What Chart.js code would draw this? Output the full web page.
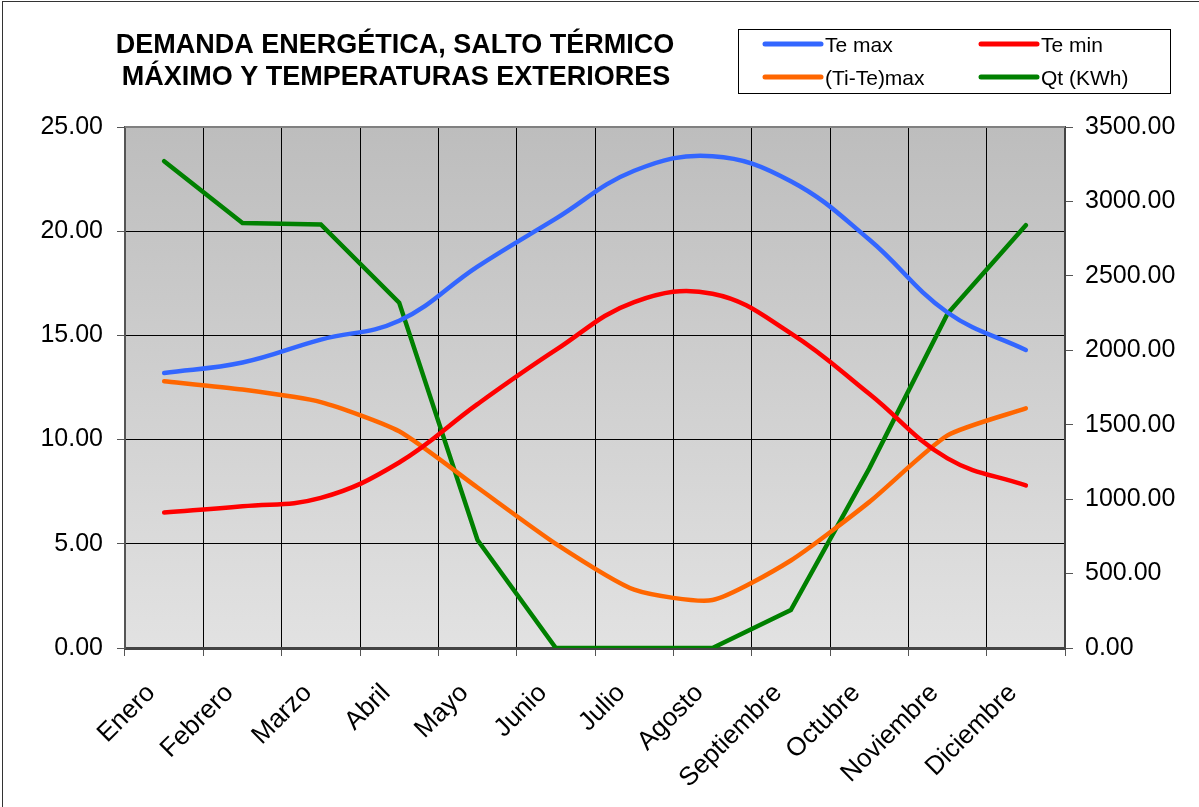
<!DOCTYPE html>
<html>
<head>
<meta charset="utf-8">
<script src="https://cdn.jsdelivr.net/npm/chart.js@4.4.1/dist/chart.umd.min.js"></script>
<style>
  html, body { margin: 0; padding: 0; background: #fff; overflow: hidden; }
  #wrap { position: relative; width: 1199px; height: 807px; }
  #frame { position: absolute; left: 2px; top: 1px; width: 1300px; height: 900px;
           border-left: 1.5px solid #333; border-top: 1.5px solid #333; pointer-events: none; }
  canvas { position: absolute; left: 0; top: 0; }
</style>
</head>
<body>
<div id="wrap">
  <canvas id="chart" width="1199" height="807"></canvas>
  <div id="frame"></div>
</div>
<script>
// data
const months = ['Enero', 'Febrero', 'Marzo', 'Abril', 'Mayo', 'Junio', 'Julio',
                'Agosto', 'Septiembre', 'Octubre', 'Noviembre', 'Diciembre'];
const teMax   = [13.2, 13.7, 14.8, 15.7, 18.3, 20.6, 22.9, 23.6, 22.4, 19.6, 16.1, 14.3];
const teMin   = [6.5, 6.8, 7.2, 8.9, 11.7, 14.3, 16.6, 17.0, 15.1, 12.2, 9.1, 7.8];
const tiTeMax = [12.8, 12.4, 11.8, 10.4, 7.7, 5.0, 2.8, 2.3, 4.2, 7.0, 10.2, 11.5];
const qt      = [3270, 2855, 2845, 2320, 725, 0, 0, 0, 255, 1205, 2245, 2840];

const titleLines = ['DEMANDA ENERGÉTICA, SALTO TÉRMICO', 'MÁXIMO Y TEMPERATURAS EXTERIORES'];
const leftAxis  = { min: 0, max: 25, step: 5 };
const rightAxis = { min: 0, max: 3500, step: 500 };

const FONT = '"Liberation Sans", Arial, sans-serif';

// gradient behind the plot area
const plotBackground = {
    id: 'plotBackground',
    beforeDraw(chart) {
        const { ctx, chartArea: a } = chart;
        const g = ctx.createLinearGradient(0, a.top, 0, a.bottom);
        g.addColorStop(0, '#bdbdbd');
        g.addColorStop(1, '#e2e2e2');
        ctx.save();
        ctx.fillStyle = g;
        ctx.fillRect(a.left, a.top, a.right - a.left, a.bottom - a.top);
        ctx.restore();
    },
    beforeDatasetsDraw(chart) {
        const { ctx, chartArea: a } = chart;
        ctx.save();
        ctx.strokeStyle = '#808080';
        ctx.lineWidth = 2;
        ctx.beginPath();
        ctx.moveTo(a.left, a.top);
        ctx.lineTo(a.right, a.top);
        ctx.stroke();
        ctx.restore();
    }
};

// title and boxed two-column legend
const header = {
    id: 'header',
    afterDraw(chart) {
        const ctx = chart.ctx;
        ctx.save();
        ctx.fillStyle = '#000';
        ctx.textAlign = 'center';
        ctx.textBaseline = 'alphabetic';
        ctx.font = 'bold 27px ' + FONT;
        ctx.fillText(titleLines[0], 395, 53);
        ctx.fillText(titleLines[1], 396, 85);

        ctx.strokeStyle = '#000';
        ctx.lineWidth = 1;
        ctx.strokeRect(738.5, 29.5, 432, 64);

        ctx.font = '21px ' + FONT;
        ctx.textAlign = 'left';
        chart.data.datasets.forEach((ds, i) => {
            const x = 765 + (i % 2) * 216;
            const y = 44 + Math.floor(i / 2) * 33;
            ctx.strokeStyle = ds.borderColor;
            ctx.lineWidth = 5;
            ctx.lineCap = 'round';
            ctx.beginPath();
            ctx.moveTo(x, y);
            ctx.lineTo(x + 56, y);
            ctx.stroke();
            ctx.textBaseline = 'middle';
            ctx.fillText(ds.label, x + 60, y + 2);
        });
        ctx.restore();
    }
};

new Chart(document.getElementById('chart'), {
    type: 'line',
    data: {
        labels: months,
        datasets: [
            { label: 'Te max', data: teMax, borderColor: '#3366FF', tension: 0.4, yAxisID: 'y' },
            { label: 'Te min', data: teMin, borderColor: '#FF0000', tension: 0.4, yAxisID: 'y' },
            { label: '(Ti-Te)max', data: tiTeMax, borderColor: '#FF6600', tension: 0.2, yAxisID: 'y' },
            { label: 'Qt (KWh)', data: qt, borderColor: '#008000', tension: 0, yAxisID: 'y1' }
        ]
    },
    options: {
        responsive: false,
        animation: false,
        devicePixelRatio: 1,
        layout: { padding: { top: 127, left: 0, right: 0, bottom: 0 } },
        elements: {
            point: { radius: 0 },
            line: { borderWidth: 4.5, fill: false, borderCapStyle: 'round' }
        },
        plugins: {
            legend: { display: false },
            tooltip: { enabled: false }
        },
        scales: {
            x: {
                offset: true,
                grid: { offset: true, color: '#000', lineWidth: 1, tickLength: 8, tickColor: '#555' },
                border: { color: '#444', width: 3 },
                ticks: {
                    minRotation: 45, maxRotation: 45, padding: 22, labelOffset: -13,
                    color: '#000', font: { family: FONT, size: 26 }
                },
                afterFit(s) { s.height = 159; }
            },
            y: {
                position: 'left',
                min: leftAxis.min, max: leftAxis.max,
                grid: { color: '#000', lineWidth: 1, tickLength: 8, tickColor: '#555' },
                border: { color: '#555', width: 2 },
                ticks: {
                    stepSize: leftAxis.step, padding: 14, color: '#000',
                    font: { family: FONT, size: 25 },
                    callback: v => v.toFixed(2)
                },
                afterFit(s) { s.width = 125; }
            },
            y1: {
                position: 'right',
                min: rightAxis.min, max: rightAxis.max,
                grid: { drawOnChartArea: false, tickLength: 8, tickColor: '#555' },
                border: { color: '#444', width: 2 },
                ticks: {
                    stepSize: rightAxis.step, padding: 12, color: '#000',
                    font: { family: FONT, size: 25 },
                    callback: v => v.toFixed(2)
                },
                afterFit(s) { s.width = 134; }
            }
        }
    },
    plugins: [plotBackground, header]
});
</script>
</body>
</html>
